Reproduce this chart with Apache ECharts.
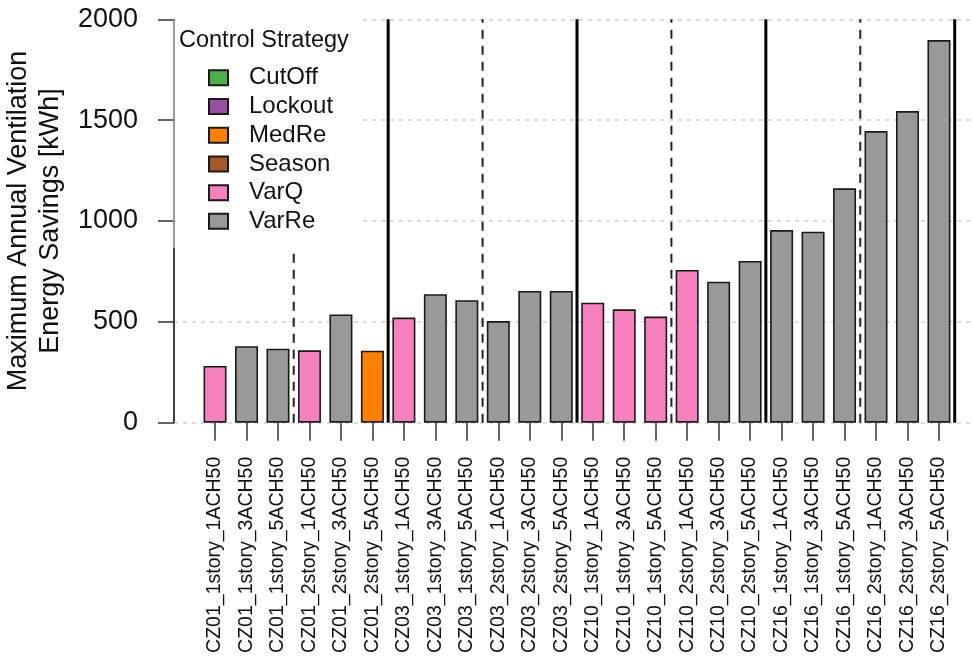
<!DOCTYPE html>
<html>
<head>
<meta charset="utf-8">
<script src="https://cdn.jsdelivr.net/npm/echarts@6/dist/echarts.min.js"></script>
<style>
html,body{margin:0;padding:0;background:#fff;}
#chart{width:973px;height:658px;}
</style>
</head>
<body>
<div id="chart"></div>
<script>
const categories = [
  'CZ01_1story_1ACH50','CZ01_1story_3ACH50','CZ01_1story_5ACH50',
  'CZ01_2story_1ACH50','CZ01_2story_3ACH50','CZ01_2story_5ACH50',
  'CZ03_1story_1ACH50','CZ03_1story_3ACH50','CZ03_1story_5ACH50',
  'CZ03_2story_1ACH50','CZ03_2story_3ACH50','CZ03_2story_5ACH50',
  'CZ10_1story_1ACH50','CZ10_1story_3ACH50','CZ10_1story_5ACH50',
  'CZ10_2story_1ACH50','CZ10_2story_3ACH50','CZ10_2story_5ACH50',
  'CZ16_1story_1ACH50','CZ16_1story_3ACH50','CZ16_1story_5ACH50',
  'CZ16_2story_1ACH50','CZ16_2story_3ACH50','CZ16_2story_5ACH50'
];
const values = [281,379,367,359,537,357,521,637,607,504,653,653,595,562,526,757,699,802,955,947,1162,1446,1545,1897];
const barStrategy = [
  'VarQ','VarRe','VarRe','VarQ','VarRe','MedRe',
  'VarQ','VarRe','VarRe','VarRe','VarRe','VarRe',
  'VarQ','VarQ','VarQ','VarQ','VarRe','VarRe',
  'VarRe','VarRe','VarRe','VarRe','VarRe','VarRe'
];
const strategies = ['CutOff','Lockout','MedRe','Season','VarQ','VarRe'];
const strategyColors = ['#4DAF4A','#984EA3','#FF7F00','#A65628','#F781BF','#999999'];
const yTicks = [0,500,1000,1500,2000];
const solidDividers = [5.5, 11.5, 17.5, 23.5];
const dashedDividers = [2.5, 8.5, 14.5, 20.5];
const legendBottomValue = 866;

const FONT = "'Liberation Sans', Arial, sans-serif";
const TXT = '#111';

const chart = echarts.init(document.getElementById('chart'));

const barSeries = strategies.map((s, i) => ({
  type: 'bar',
  name: s,
  xAxisIndex: 0,
  yAxisIndex: 1,
  stack: 'all',
  barWidth: 23,
  itemStyle: { color: strategyColors[i], borderColor: '#1a1a1a', borderWidth: 1.6 },
  data: values.map((v, k) => barStrategy[k] === s ? v : '-')
}));

function divider(x, dashed) {
  return {
    type: 'line',
    xAxisIndex: 2,
    yAxisIndex: 1,
    clip: false,
    symbol: 'none',
    silent: true,
    z: 3,
    lineStyle: dashed ? { color: '#222', width: 2, type: [9, 7] } : { color: '#000', width: 3 },
    data: [[x, yTicks[0]], [x, yTicks[yTicks.length - 1]]]
  };
}

const yMin = yTicks[0];
const yMax = yTicks[yTicks.length - 1];

function axisSegment(from, to, color) {
  return {
    type: 'line',
    xAxisIndex: 1,
    yAxisIndex: 0,
    clip: false,
    symbol: 'none',
    silent: true,
    z: 10,
    lineStyle: { color: color, width: 1.5 },
    data: [[0, from], [0, to]]
  };
}

const option = {
  animation: false,
  textStyle: { fontFamily: FONT },
  title: {
    text: 'Control Strategy',
    left: 179,
    top: 29,
    padding: 0,
    textStyle: { fontFamily: FONT, fontSize: 23.5, fontWeight: 'normal', color: TXT }
  },
  legend: {
    orient: 'vertical',
    left: 176,
    top: 10,
    padding: [53.5, 26, 13.5, 32],
    itemGap: 0,
    itemWidth: 19,
    itemHeight: 15,
    icon: 'rect',
    selectedMode: false,
    backgroundColor: '#fff',
    borderWidth: 0,
    data: strategies,
    textStyle: { fontFamily: FONT, fontSize: 24, color: TXT, lineHeight: 28.7, padding: [0, 0, 0, 16] }
  },
  grid: [
    { left: 174, right: 3, top: 19.3, bottom: 235.3, outerBoundsMode: 'none', containLabel: false },
    { left: 199.3, right: 18.3, top: 19.3, bottom: 235.3, outerBoundsMode: 'none', containLabel: false }
  ],
  xAxis: [
    {
      type: 'category',
      gridIndex: 1,
      data: categories,
      axisLine: { show: false },
      axisTick: { show: true, alignWithLabel: true, length: 18, lineStyle: { color: '#333', width: 1.5 } },
      axisLabel: { rotate: 90, fontSize: 19.5, margin: 34, color: TXT, fontFamily: FONT, interval: 0 },
      splitLine: { show: false }
    },
    { type: 'value', gridIndex: 0, min: 0, max: 1, show: false },
    { type: 'value', gridIndex: 1, min: -0.5, max: 23.5, show: false }
  ],
  yAxis: [
    {
      type: 'value',
      gridIndex: 0,
      position: 'left',
      min: yMin,
      max: yMax,
      interval: 500,
      name: 'Maximum Annual Ventilation\nEnergy Savings [kWh]',
      nameLocation: 'middle',
      nameGap: 98,
      nameTextStyle: { fontFamily: FONT, fontSize: 27, lineHeight: 32, color: TXT },
      axisLine: { show: true, lineStyle: { color: '#444', width: 1.5 } },
      axisTick: { show: true, length: 16, lineStyle: { color: '#333', width: 1.5 } },
      axisLabel: { fontSize: 27, margin: 36, color: TXT, fontFamily: FONT, formatter: v => String(v) },
      splitLine: { show: true, lineStyle: { color: '#cfcfcf', width: 1.5, type: [4, 5] } }
    },
    {
      type: 'value',
      gridIndex: 1,
      position: 'left',
      min: yMin,
      max: yMax,
      interval: 500,
      show: false,
      splitLine: { show: false }
    }
  ],
  series: [
    ...barSeries,
    ...solidDividers.map(x => divider(x, false)),
    ...dashedDividers.map(x => divider(x, true)),
    axisSegment(yMin, legendBottomValue, '#333'),
    axisSegment(legendBottomValue, yMax, '#aaaaaa')
  ]
};

chart.setOption(option);
</script>
</body>
</html>
